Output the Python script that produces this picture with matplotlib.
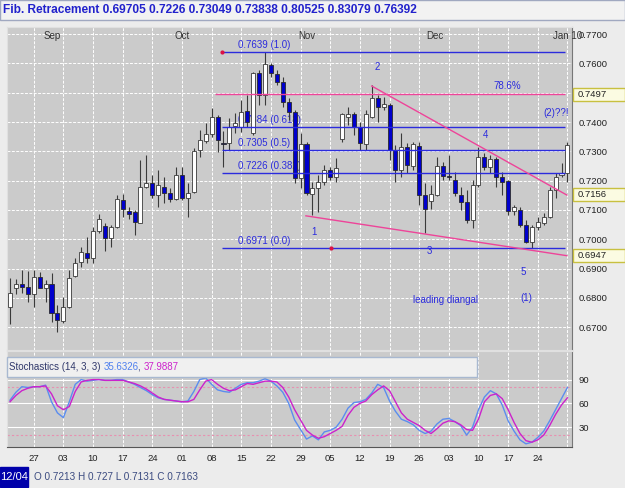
import numpy as np
import matplotlib.pyplot as plt
from matplotlib.patches import Rectangle
from matplotlib.transforms import blended_transform_factory

plt.rcParams['font.family'] = ['Liberation Sans', 'DejaVu Sans']

# daily candles, 21 Aug .. 31 Dec
opens = [0.6770, 0.6835, 0.6846, 0.6838, 0.6812, 0.6870, 0.6833, 0.6846, 0.6747, 0.6722,
         0.6768, 0.6875, 0.6922, 0.6954, 0.6935, 0.7029, 0.7046, 0.7003, 0.7041, 0.7134,
         0.7098, 0.7094, 0.7057, 0.7180, 0.7193, 0.7151, 0.7179, 0.7157, 0.7138, 0.7219,
         0.7140, 0.7162, 0.7305, 0.7337, 0.7358, 0.7418, 0.7330, 0.7328, 0.7387, 0.7384,
         0.7438, 0.7362, 0.7566, 0.7492, 0.7595, 0.7563, 0.7538, 0.7470, 0.7436, 0.7208,
         0.7325, 0.7155, 0.7174, 0.7194, 0.7236, 0.7211, 0.7341, 0.7418, 0.7427, 0.7382,
         0.7325, 0.7418, 0.7481, 0.7453, 0.7458, 0.7305, 0.7236, 0.7316, 0.7251, 0.7319,
         0.7151, 0.7131, 0.7151, 0.7250, 0.7216, 0.7202, 0.7151, 0.7128, 0.7066, 0.7185,
         0.7282, 0.7248, 0.7273, 0.7214, 0.7199, 0.7097, 0.7100, 0.7049, 0.6992, 0.7041,
         0.7057, 0.7075, 0.7168, 0.7219, 0.7225]
highs = [0.6867, 0.6863, 0.6895, 0.6893, 0.6895, 0.6889, 0.6861, 0.6884, 0.6776, 0.6804,
         0.6895, 0.6935, 0.6973, 0.7009, 0.7043, 0.7085, 0.7055, 0.7049, 0.7151, 0.7155,
         0.7111, 0.7100, 0.7271, 0.7288, 0.7219, 0.7236, 0.7214, 0.7174, 0.7248, 0.7248,
         0.7191, 0.7311, 0.7373, 0.7396, 0.7447, 0.7424, 0.7370, 0.7413, 0.7430, 0.7475,
         0.7492, 0.7572, 0.7578, 0.7639, 0.7601, 0.7578, 0.7555, 0.7481, 0.7441, 0.7362,
         0.7333, 0.7197, 0.7219, 0.7254, 0.7248, 0.7276, 0.7432, 0.7452, 0.7436, 0.7401,
         0.7441, 0.7527, 0.7493, 0.7487, 0.7464, 0.7322, 0.7362, 0.7328, 0.7333, 0.7333,
         0.7191, 0.7185, 0.7282, 0.7265, 0.7288, 0.7231, 0.7179, 0.7168, 0.7202, 0.7316,
         0.7293, 0.7288, 0.7282, 0.7231, 0.7202, 0.7117, 0.7109, 0.7066, 0.7049, 0.7077,
         0.7089, 0.7180, 0.7225, 0.7259, 0.7333]
lows = [0.6711, 0.6812, 0.6816, 0.6787, 0.6770, 0.6833, 0.6787, 0.6719, 0.6685, 0.6713,
        0.6765, 0.6870, 0.6906, 0.6918, 0.6920, 0.7020, 0.6960, 0.6973, 0.7038, 0.7077,
        0.7068, 0.7014, 0.7055, 0.7175, 0.7140, 0.7111, 0.7123, 0.7128, 0.7134, 0.7134,
        0.7077, 0.7157, 0.7282, 0.7328, 0.7350, 0.7299, 0.7248, 0.7305, 0.7362, 0.7367,
        0.7384, 0.7356, 0.7458, 0.7458, 0.7555, 0.7527, 0.7453, 0.7407, 0.7191, 0.7174,
        0.7151, 0.7083, 0.7094, 0.7185, 0.7202, 0.7197, 0.7333, 0.7390, 0.7356, 0.7305,
        0.7305, 0.7413, 0.7401, 0.7441, 0.7271, 0.7197, 0.7214, 0.7225, 0.7237, 0.7117,
        0.7021, 0.7102, 0.7146, 0.7202, 0.7202, 0.7146, 0.7100, 0.7055, 0.7037, 0.7179,
        0.7236, 0.7225, 0.7180, 0.7151, 0.7083, 0.7083, 0.7043, 0.6986, 0.6969, 0.7032,
        0.7049, 0.7072, 0.7140, 0.7214, 0.7197]
closes = [0.6818, 0.6846, 0.6838, 0.6812, 0.6870, 0.6835, 0.6846, 0.6747, 0.6725, 0.6770,
          0.6867, 0.6920, 0.6956, 0.6935, 0.7029, 0.7068, 0.7003, 0.7041, 0.7136, 0.7102,
          0.7085, 0.7060, 0.7179, 0.7191, 0.7151, 0.7185, 0.7157, 0.7138, 0.7219, 0.7140,
          0.7157, 0.7301, 0.7339, 0.7359, 0.7418, 0.7339, 0.7324, 0.7384, 0.7396, 0.7435,
          0.7401, 0.7566, 0.7492, 0.7597, 0.7567, 0.7536, 0.7470, 0.7436, 0.7208, 0.7325,
          0.7157, 0.7174, 0.7194, 0.7236, 0.7211, 0.7244, 0.7427, 0.7429, 0.7382, 0.7328,
          0.7427, 0.7481, 0.7453, 0.7461, 0.7305, 0.7236, 0.7316, 0.7254, 0.7324, 0.7151,
          0.7102, 0.7154, 0.7250, 0.7216, 0.7211, 0.7159, 0.7128, 0.7066, 0.7185, 0.7282,
          0.7248, 0.7273, 0.7214, 0.7197, 0.7097, 0.7109, 0.7049, 0.6992, 0.7041, 0.7060,
          0.7077, 0.7168, 0.7214, 0.7227, 0.7322]

stoch_k = [64, 74, 81, 80, 81, 81, 83, 62, 48, 42,
           62, 84, 90, 88, 89, 90, 89, 89, 90, 90,
           87, 84, 80, 76, 71, 67, 65, 64, 63, 62,
           63, 75, 90, 92, 84, 77, 75, 74, 79, 84,
           86, 86, 88, 91, 88, 82, 74, 60, 39, 27,
           15, 19, 14, 24, 26, 30, 40, 54, 61, 62,
           65, 73, 84, 80, 63, 50, 40, 37, 33, 26,
           22, 25, 34, 40, 41, 37, 32, 20, 30, 52,
           68, 76, 72, 58, 38, 25, 14, 9, 11, 17,
           25, 38, 52, 66, 80]
stoch_d = [62, 70, 76, 79, 81, 81, 82, 72, 57, 52,
           56, 75, 87, 89, 90, 90, 89, 89, 89, 89,
           87, 85, 82, 78, 73, 68, 65, 64, 63, 62,
           62, 65, 77, 88, 90, 84, 79, 76, 77, 81,
           85, 84, 86, 88, 88, 87, 80, 68, 52, 39,
           26, 20, 16, 18, 22, 26, 31, 45, 55, 60,
           63, 71, 77, 82, 76, 62, 48, 40, 36, 32,
           26, 22, 28, 35, 38, 37, 33, 27, 26, 40,
           62, 70, 72, 66, 52, 36, 22, 13, 11, 14,
           20, 32, 46, 58, 67]

week_labels = ['27', '03', '10', '17', '24', '01', '08', '15', '22', '29',
               '05', '12', '19', '26', '03', '10', '17', '24']
month_labels = ['Sep', 'Oct', 'Nov', 'Dec', 'Jan 10']
price_ticks = [0.77, 0.76, 0.74, 0.73, 0.72, 0.71, 0.70, 0.69, 0.68, 0.67]
stoch_ticks = [30, 60, 90]
fib_levels = [0.7639, 0.7384, 0.7305, 0.7226, 0.6971]
fib_ratios = ['1.0', '0.618', '0.5', '0.382', '0.0']
level_786 = 0.7497
marked_prices = [0.7497, 0.7156, 0.6947]
upper_trend = ([61, 93.9], [0.7523, 0.7151])
lower_trend = ([49.9, 93.9], [0.7080, 0.6944])
waves = [('1', 51.3, 0.7024), ('2', 61.9, 0.7588), ('3', 70.7, 0.6960),
         ('4', 80.2, 0.7356), ('5', 86.6, 0.6887), ('(1)', 87.0, 0.6799),
         ('(2)??!', 92.1, 0.7432), ('leading diangal', 73.5, 0.6793)]
title = 'Fib. Retracement 0.69705 0.7226 0.73049 0.73838 0.80525 0.83079 0.76392'
stoch_text = [('Stochastics (14, 3, 3) ', '#30386a'), ('35.6326', '#4f80ee'),
              (', ', '#30386a'), ('37.9887', '#cc22cc')]
status_text = 'O 0.7213 H 0.727 L 0.7131 C 0.7163'

W, H = 625, 488
BG = '#cbcbcb'
BLUE = '#2b2bdd'
PINK = '#ee4499'

fig = plt.figure(figsize=(6.25, 4.88), dpi=100, facecolor='#ececec')
ax = fig.add_axes([7 / W, 138 / H, 565 / W, 323 / H], facecolor=BG)
sx = fig.add_axes([7 / W, 41 / H, 565 / W, 96 / H], facecolor=BG)

n = len(opens)
xs = np.arange(n)

# grid
for p in np.arange(0.67, 0.7750, 0.01):
    ax.axhline(p, color='white', lw=0.7, ls=(0, (3, 1.5)), zorder=1)
for i in range(4, n, 5):
    ax.axvline(i, color='white', lw=0.7, ls=(0, (3, 1.5)), zorder=1)
    sx.axvline(i, color='white', lw=0.7, ls=(0, (3, 1.5)), zorder=1)

# candles
o = np.array(opens)
c = np.array(closes)
up = c >= o
body_lo = np.minimum(o, c)
body_h = np.maximum(np.abs(c - o), 0.0002)
ax.vlines(xs, lows, highs, color='#3a3a3a', lw=0.8, zorder=3)
ax.bar(xs[up], body_h[up], bottom=body_lo[up], width=0.68, color='white',
       edgecolor='#3a3a3a', lw=0.6, zorder=4)
ax.bar(xs[~up], body_h[~up], bottom=body_lo[~up], width=0.68, color='#0000cc',
       edgecolor='#2a2a2a', lw=0.6, zorder=4)

# fibonacci levels
for lev, r in zip(fib_levels, fib_ratios):
    ax.hlines(lev, 35.7, 93.6, color=BLUE, lw=1, zorder=5)
    ax.text(38.5, lev + 0.0006, f'{lev:.4f} ({r})', color=BLUE, fontsize=7,
            va='bottom', zorder=2)
ax.plot([35.7, 54.2], [fib_levels[0], fib_levels[-1]], 'o', ms=2, color='#dd1144',
        zorder=6)
ax.hlines(level_786, 34.6, 93.6, color=PINK, lw=1, zorder=5)
ax.text(81.6, level_786 + 0.0008, '78.6%', color=BLUE, fontsize=7, va='bottom',
        zorder=2)
ax.plot(*upper_trend, color=PINK, lw=1, zorder=5)
ax.plot(*lower_trend, color=PINK, lw=1, zorder=5)
for s, xi, yp in waves:
    ax.text(xi, yp, s, color=BLUE, fontsize=7, ha='center', va='center', zorder=6)

# month labels
for s, xi in zip(month_labels, [7.1, 29.0, 50.1, 71.6, 91.5]):
    ax.text(xi, 0.7693, s, color='#333333', fontsize=7, ha='center' if xi < 90 else 'left',
            va='center', zorder=6, clip_on=False)

ax.set_xlim(-0.506, 94.77)
ax.set_ylim(0.66221, 0.77245)
ax.yaxis.tick_right()
ax.set_yticks(price_ticks)
ax.set_yticklabels([f'{p:.4f}' for p in price_ticks])
ax.tick_params(axis='y', length=0, pad=5, labelsize=6.8, labelcolor='#222222')
ax.set_xticks([])
for side in ['left', 'top', 'bottom']:
    ax.spines[side].set_color('#e0e0e0')
ax.spines['right'].set_color('#777777')

# highlighted price boxes
tr = blended_transform_factory(ax.transAxes, ax.transData)
for p in marked_prices:
    ax.add_patch(Rectangle((1.0018, p - 0.0025), 0.092, 0.0044, transform=tr,
                           fc='#fbfbe2', ec='#c8c040', lw=1, clip_on=False, zorder=7))
    ax.text(1.0 + 6 / 565, p - 0.0003, f'{p:.4f}', transform=tr, fontsize=6.8,
            color='#222222', va='center', clip_on=False, zorder=8)

# stochastics
for v in stoch_ticks:
    sx.axhline(v, color='white', lw=0.8, zorder=1)
for v in [20, 80]:
    sx.axhline(v, color='#e890b0', lw=0.8, ls=(0, (2, 2)), zorder=1)
sx.plot(xs, stoch_k, color='#5b8def', lw=1, zorder=3)
sx.plot(xs, stoch_d, color='#cc22cc', lw=1, zorder=3)
sx.set_xlim(-0.506, 94.77)
sx.set_ylim(5, 126)
sx.yaxis.tick_right()
sx.set_yticks(stoch_ticks)
sx.set_xticks(range(4, 4 + 5 * len(week_labels), 5))
sx.set_xticklabels(week_labels)
sx.tick_params(length=0, labelsize=6.8, labelcolor='#222222')
sx.tick_params(axis='y', pad=5)
sx.tick_params(axis='x', pad=5)
for side in ['left', 'top']:
    sx.spines[side].set_color('#e0e0e0')
sx.spines['right'].set_color('#777777')
sx.spines['bottom'].set_color('#555555')

# title bar
fig.add_artist(Rectangle((0, 1 - 20 / H), 1, 20 / H, transform=fig.transFigure,
                         fc='#f2f2f2', ec='#a0a8c0', lw=1))
fig.text(3 / W, 1 - 10 / H, title, color='#2222cc', fontsize=8.6,
         fontweight='bold', va='center')

# stochastics legend box
fig.add_artist(Rectangle((7 / W, 1 - 377 / H), 470 / W, 20 / H,
                         transform=fig.transFigure, fc='#f0f0f0', ec='#a8b8d0',
                         lw=1, zorder=5))
renderer = fig.canvas.get_renderer()
tx = 9 / W
for s, col in stoch_text:
    t = fig.text(tx, 1 - 367 / H, s, color=col, fontsize=7, va='center', zorder=6)
    tx = t.get_window_extent(renderer).x1 / fig.bbox.width

# status bar
fig.add_artist(Rectangle((0, 1 - 487 / H), 28 / W, 20 / H, transform=fig.transFigure,
                         fc='#0000aa', ec='#0000aa'))
fig.text(14 / W, 1 - 477 / H, '12/04', color='white', fontsize=8, ha='center',
         va='center')
fig.text(34 / W, 1 - 477 / H, status_text, color='#3a4a80', fontsize=7.2,
         va='center')

fig.savefig('out.png', dpi=100, facecolor=fig.get_facecolor())
